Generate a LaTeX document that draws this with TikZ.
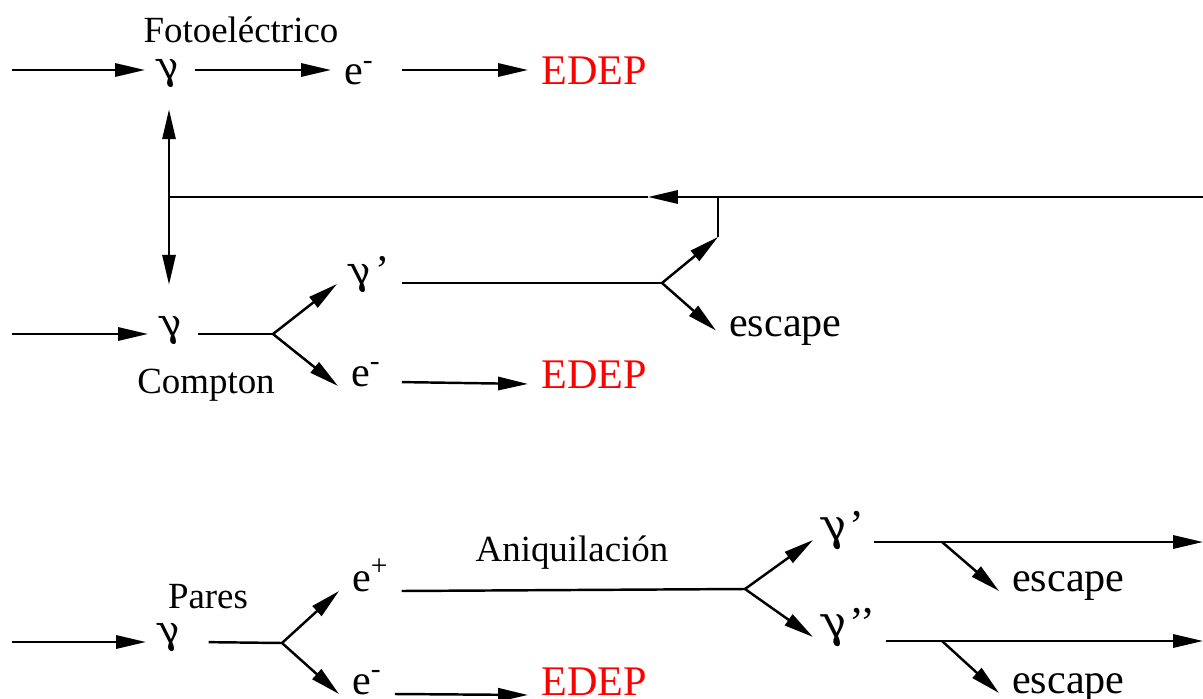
\documentclass[tikz,border=0pt]{standalone}
\usepackage{fontspec}
\setmainfont{Liberation Serif}
\newfontfamily\grk[FakeSlant=-0.2]{DejaVu Serif}
\usetikzlibrary{arrows.meta}
\tikzset{
  lbl/.style={font=\fontsize{24}{28}\selectfont, inner xsep=0.24cm, inner ysep=0pt, anchor=base west},
  biglbl/.style={lbl, font=\fontsize{25}{30}\selectfont, inner xsep=0.18cm},
  proc/.style={font=\fontsize{21}{25}\selectfont, inner sep=0pt, anchor=base},
  tip/.style={-{Triangle[length=17pt,width=7.5pt]}},
}
\newcommand{\gam}{{\grk\fontsize{22}{26}\selectfont γ}}
\begin{document}
\begin{tikzpicture}[x=0.02cm, y=-0.02cm, line width=1.4pt]
    \useasboundingbox (0,0) rectangle (1203,699);
    % fotoelectrico
    \coordinate (inF) at (12,70);
    \node[lbl] (gF) at (145,80) {\gam};
    \node[lbl] (eF) at (331,85) {e\textsuperscript{-}};
    \node[lbl, red] (dF) at (528,85) {EDEP};
    \node[proc] (tF) at (241,43) {Fotoeléctrico};
    \draw[tip] (inF) -- (inF -| gF.west);
    \draw[tip] (gF.east |- inF) -- (inF -| eF.west);
    \draw[tip, shorten <=0.3cm] (eF.east |- inF) -- (inF -| dF.west);
    % retorno
    \coordinate (jV) at (169,197);
    \coordinate (aT) at (648,197);
    \coordinate (jT) at (718,197);
    \coordinate (jB) at (718,237);
    \coordinate (eR) at (1203,197);
    \draw[tip] (eR) -- (aT);
    \draw (aT) -- (jV);
    \draw (jT) -- (jB);
    \draw[tip, shorten >=0.4cm] (jV) -- (jV |- gF.south);
    % compton
    \coordinate (inC) at (12,334);
    \coordinate (bC) at (273,334);
    \coordinate (kC) at (662,283);
    \node[lbl] (gC) at (148,336) {\gam};
    \node[proc] (tC) at (206,393) {Compton};
    \node[lbl] (gC2) at (337,284) {\gam\kern1pt’};
    \node[lbl] (eC) at (338,386) {e\textsuperscript{-}};
    \node[lbl, red] (dC) at (528,388) {EDEP};
    \node[lbl] (sC) at (716,336) {escape};
    \draw[tip, shorten >=0.6cm] (jV) -- (jV |- gC.north);
    \draw[tip] (inC) -- (inC -| gC.west);
    \draw (gC.east |- inC) -- (bC);
    \draw[tip] (bC) -- (gC2.base west);
    \draw[tip] (bC) -- (eC.base west);
    \draw[tip, shorten <=0.16cm] (eC.mid east) -- (dC.mid west);
    \draw (gC2.east |- kC) -- (kC);
    \draw[tip] (kC) -- (jB);
    \draw[tip] (kC) -- (sC.west);
    % pares
    \coordinate (inP) at (12,642);
    \coordinate (bP) at (282,643);
    \coordinate (bA) at (745,589);
    \coordinate (oA1) at (1203,542);
    \coordinate (oA2) at (1203,641);
    \coordinate (eA1) at (942,542);
    \coordinate (eA2) at (942,641);
    \node[lbl] (gP) at (146,643) {\gam};
    \node[proc] (tP) at (208,608) {Pares};
    \node[lbl] (eP) at (339,591) {e\textsuperscript{+}};
    \node[lbl] (eM) at (339,694) {e\textsuperscript{-}};
    \node[lbl, red] (dP) at (528,695) {EDEP};
    \node[proc] (tA) at (572,561) {Aniquilación};
    \node[biglbl] (g1) at (813,540) {{\grk γ}’};
    \node[biglbl] (g2) at (813,637) {{\grk γ}’’};
    \node[lbl] (s1) at (999,591) {escape};
    \node[lbl] (s2) at (999,693) {escape};
    \draw[tip] (inP) -- (inP -| gP.west);
    \draw[shorten <=0.26cm] (gP.east |- inP) -- (bP);
    \draw[tip] (bP) -- (eP.base west);
    \draw[tip] (bP) -- (eM.base west);
    \draw[tip] (eM.base east) -- (dP.base west);
    \draw (eP.base east) -- (bA);
    \draw[tip] (bA) -- (g1.base west);
    \draw[tip] (bA) -- (g2.base west);
    \draw[tip] (g1.east |- oA1) -- (oA1);
    \draw[tip] (g2.east |- oA2) -- (oA2);
    \draw[tip] (eA1) -- (s1.base west);
    \draw[tip] (eA2) -- (s2.base west);
\end{tikzpicture}
\end{document}
